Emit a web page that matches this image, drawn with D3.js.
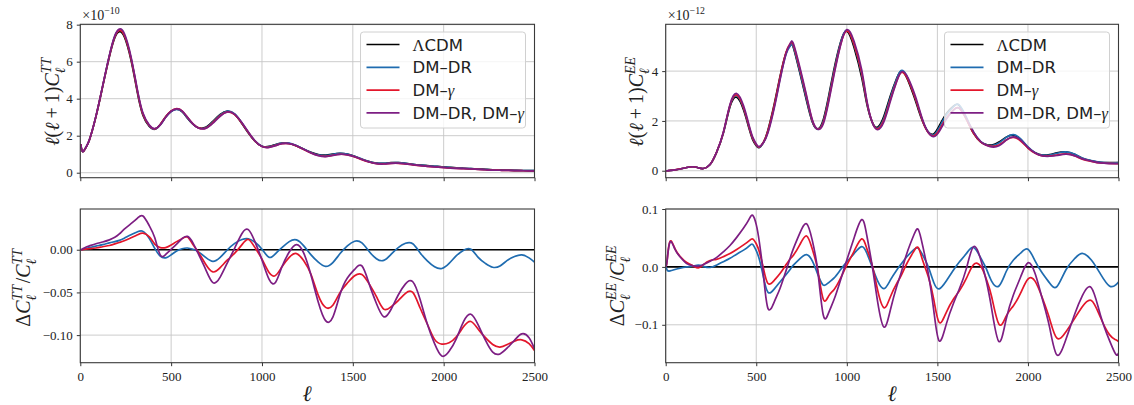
<!DOCTYPE html>
<html>
<head>
<meta charset="utf-8">
<script src="https://cdn.jsdelivr.net/npm/d3@7"></script>
<style>
  body { margin: 0; background: #fff; }
  svg { display: block; }
</style>
</head>
<body>
<svg id="fig" width="1134" height="405"></svg>
<script>
// ---- data ----
// multipoles for the TT spectrum
const ellTT = [2, 13, 30, 50, 86,
  123, 160, 190, 215, 242,
  279, 315, 345, 380, 410,
  440, 470, 500, 530, 560,
  590, 620, 650, 690, 730,
  770, 810, 850, 890, 925,
  960, 1000, 1040, 1075, 1110,
  1150, 1190, 1230, 1270, 1310,
  1350, 1390, 1430, 1470, 1510,
  1550, 1590, 1630, 1670, 1710,
  1750, 1790, 1830, 1870, 1910,
  1950, 1990, 2030, 2070, 2110,
  2150, 2190, 2230, 2270, 2310,
  2350, 2390, 2430, 2470, 2500];

// l(l+1) C_l^TT of LCDM, in units of 1e-10
const clTT = [1.55, 1.14, 1.35, 1.77, 3.03,
  4.65, 6.27, 7.3, 7.62, 7.35,
  6.09, 4.29, 3.1, 2.5, 2.35,
  2.6, 3.02, 3.32, 3.43, 3.3,
  2.95, 2.62, 2.43, 2.45, 2.78,
  3.15, 3.33, 3.15, 2.65, 2.15,
  1.72, 1.43, 1.42, 1.52, 1.6,
  1.58, 1.45, 1.27, 1.1, 0.98,
  0.95, 1.01, 1.05, 1.0, 0.88,
  0.73, 0.6, 0.52, 0.51, 0.54,
  0.54, 0.5, 0.45, 0.41, 0.38,
  0.35, 0.32, 0.29, 0.26, 0.24,
  0.22, 0.2, 0.18, 0.16, 0.15,
  0.14, 0.13, 0.12, 0.115, 0.11];

// relative difference to LCDM, in percent
const dTT_DR = [0, 0.05, 0.15, 0.25, 0.43,
  0.6, 0.8, 0.95, 1.1, 1.35,
  1.75, 2.1, 2.15, 1.3, 0.15,
  -0.75, -0.95, -0.6, -0.15, 0.12,
  0.2, 0.05, -0.25, -0.9, -1.37,
  -0.9, 0.0, 0.75, 1.2, 1.29,
  0.9, 0.05, -0.9, -0.45, 0.25,
  0.95, 1.15, 0.45, -0.6, -1.45,
  -1.95, -1.5, -0.45, 0.45, 1.0,
  0.8, -0.2, -1.05, -1.25, -0.55,
  0.25, 0.75, 0.7, -0.35, -1.3,
  -2.0, -2.2, -1.6, -0.7, -0.05,
  0.05, -0.9, -1.6, -2.05, -1.9,
  -1.25, -0.8, -0.6, -0.95, -1.45];

const dTT_G = [0, 0.02, 0.07, 0.12, 0.2,
  0.35, 0.5, 0.68, 0.85, 1.05,
  1.4, 1.75, 1.95, 1.5, 0.65,
  0.25, 0.25, 0.55, 0.95, 1.3,
  1.48, 0.6, -0.3, -1.7, -2.6,
  -2.1, -1.2, -0.4, 0.6, 1.2,
  0.3, -1.1, -2.7, -3.0, -2.0,
  -0.9, -0.45, -1.3, -2.9, -5.35,
  -6.75, -6.5, -5.0, -3.9, -3.05,
  -2.9, -4.0, -5.5, -6.95, -6.7,
  -5.95, -5.1, -5.0, -6.8, -8.7,
  -10.5, -11.05, -10.9, -10.2, -9.0,
  -8.4, -9.3, -10.3, -11.1, -11.4,
  -11.1, -10.7, -10.55, -11.0, -11.8];

const dTT_DRG = [0, 0.1, 0.3, 0.45, 0.7,
  0.9, 1.15, 1.45, 1.85, 2.4,
  3.05, 3.7, 3.95, 2.8, 1.4,
  -0.6, -0.55, 0.05, 0.65, 1.3,
  1.56, 0.8, -0.5, -2.3, -3.85,
  -3.2, -1.5, 0.2, 1.9, 2.35,
  1.0, -1.2, -3.5, -3.8, -2.0,
  -0.27, 0.6, -0.4, -3.0, -6.15,
  -8.3, -7.9, -5.2, -3.3, -2.3,
  -1.9, -4.0, -6.3, -7.85, -7.0,
  -5.3, -4.0, -3.75, -5.8, -8.7,
  -11.0, -12.45, -11.9, -10.4, -8.4,
  -7.55, -8.8, -10.6, -12.0, -12.2,
  -11.5, -10.6, -9.85, -10.3, -11.6];

// multipoles for the EE spectrum
const ellEE = [2, 9, 24, 51, 80,
  116, 150, 180, 208, 245,
  280, 318, 355, 392, 430,
  460, 480, 500, 517, 540,
  565, 600, 631, 665, 690,
  705, 740, 778, 810, 840,
  870, 900, 930, 965, 1000,
  1040, 1082, 1110, 1140, 1170,
  1205, 1240, 1275, 1300, 1330,
  1370, 1395, 1420, 1450, 1480,
  1510, 1550, 1590, 1620, 1660,
  1700, 1740, 1770, 1800, 1840,
  1880, 1920, 1960, 2000, 2040,
  2080, 2120, 2160, 2210, 2260,
  2300, 2350, 2400, 2450, 2485,
  2500];

// l(l+1) C_l^EE of LCDM, in units of 1e-12
const clEE = [0.0, 0.0, 0.01, 0.03, 0.07,
  0.13, 0.16, 0.12, 0.09, 0.25,
  0.72, 1.5, 2.57, 2.95, 2.44,
  1.7, 1.25, 1.0, 0.93, 1.15,
  1.65, 2.7, 3.78, 4.75, 5.05,
  4.95, 3.95, 2.8, 1.95, 1.68,
  2.05, 3.0, 4.1, 5.15, 5.6,
  4.95, 3.75, 2.7, 1.95, 1.75,
  2.2, 3.0, 3.7, 4.0, 3.75,
  3.0, 2.45, 1.95, 1.55, 1.48,
  1.8, 2.3, 2.6, 2.62, 2.1,
  1.5, 1.15, 1.05, 1.03, 1.15,
  1.35, 1.43, 1.25, 0.93, 0.72,
  0.63, 0.65, 0.72, 0.76, 0.65,
  0.5, 0.4, 0.34, 0.33, 0.33,
  0.33];

const dEE_DR = [0, -0.6, -0.7, -0.45, -0.2,
  0.0, 0.15, 0.29, 0.1, -0.1,
  0.3, 0.9, 1.5, 2.2, 2.9,
  3.6, 3.9, 2.8, 1.3, -1.8,
  -4.4, -3.8, -2.6, -1.3, -0.3,
  0.3, 1.4, 2.13, 1.0, -1.3,
  -3.15, -2.7, -1.9, -0.5, 0.86,
  2.3, 3.5, 2.4, 0.0, -2.4,
  -3.75, -2.3, -0.57, 0.5, 1.7,
  3.0, 3.2, 2.0, 0.0, -2.7,
  -3.8, -2.4, -0.5, 0.8, 2.3,
  3.34, 1.5, -0.3, -2.5, -3.3,
  -0.8, 1.2, 2.4, 3.05, 1.0,
  -1.1, -2.8, -3.4, -0.5, 1.5,
  2.35, 1.2, -1.2, -3.3, -3.1,
  -2.6];

const dEE_G = [0, 1.44, 4.43, 3.16, 1.8,
  0.75, 0.2, -0.17, 0.4, 1.1,
  1.3, 1.75, 2.3, 3.0, 3.8,
  4.5, 4.83, 4.0, 2.6, -0.3,
  -2.87, -2.3, -1.15, 0.4, 1.5,
  2.0, 3.8, 5.34, 3.0, -0.6,
  -5.6, -5.0, -3.9, -2.0, 0.3,
  2.7, 4.83, 3.2, 0.3, -4.0,
  -7.05, -5.2, -2.9, -1.5, 0.5,
  2.7, 3.3, 1.0, -1.7, -5.6,
  -9.6, -7.8, -5.5, -4.2, -2.0,
  0.4, 0.1, -2.1, -5.2, -9.9,
  -8.5, -6.7, -4.5, -2.1, -2.5,
  -5.4, -9.0, -12.3, -11.2, -8.8,
  -6.9, -5.8, -8.7, -11.7, -12.6,
  -12.9];

const dEE_DRG = [0, 1.4, 4.31, 3.05, 1.7,
  0.57, 0.2, 0.11, 0.4, 0.98,
  1.6, 2.6, 3.7, 5.1, 6.7,
  8.2, 8.91, 7.3, 4.3, -1.5,
  -7.2, -6.0, -3.74, -0.6, 1.8,
  3.16, 5.8, 7.45, 4.5, -0.8,
  -8.3, -7.9, -5.6, -2.3, 1.2,
  5.0, 8.16, 5.5, 0.2, -6.0,
  -10.4, -7.5, -3.45, -1.0, 2.2,
  5.5, 6.44, 3.5, -1.15, -7.5,
  -12.8, -9.8, -6.2, -3.9, -0.3,
  3.5, 1.2, -2.4, -7.3, -12.9,
  -9.0, -4.8, -1.7, 0.7, -1.2,
  -5.6, -10.5, -15.2, -12.5, -8.0,
  -5.0, -3.6, -8.3, -12.7, -15.1,
  -14.9];

const models = ["ΛCDM", "DM–DR", "DM–γ", "DM–DR, DM–γ"];
const colors = ["#000000", "#1f6cb0", "#e3162b", "#7d1e83"];

const xTicks = [0, 500, 1000, 1500, 2000, 2500];
const ttTicks = [0, 2, 4, 6, 8];
const eeTicks = [0, 2, 4];
const dTTTicks = [-0.10, -0.05, 0.00];
const dEETicks = [-0.1, 0.0, 0.1];

// ---- drawing ----
const svg = d3.select("#fig");
const serif = "'Liberation Serif', 'DejaVu Serif', serif";
const sans = "'DejaVu Sans', 'Liberation Sans', sans-serif";

// lays out a little formula piece by piece, returns group and width
function mathText(parent, pieces, size) {
  const g = parent.append("g");
  let cx = 0;
  pieces.forEach(p => {
    if (p.s !== undefined) {
      const t = g.append("text")
        .attr("x", cx).attr("y", 0)
        .attr("font-size", size * (p.scale || 1))
        .attr("font-family", p.sans ? sans : serif)
        .attr("font-style", p.it ? "italic" : "normal")
        .attr("fill", "#222")
        .text(p.s);
      cx += t.node().getComputedTextLength() + (p.pad || 0);
    } else {
      let w = 0;
      if (p.sup) {
        const t = g.append("text")
          .attr("x", cx).attr("y", -0.42 * size)
          .attr("font-size", 0.7 * size)
          .attr("font-family", serif)
          .attr("font-style", p.upright ? "normal" : "italic")
          .attr("fill", "#222")
          .text(p.sup);
        w = Math.max(w, t.node().getComputedTextLength());
      }
      if (p.sub) {
        const t = g.append("text")
          .attr("x", cx).attr("y", 0.28 * size)
          .attr("font-size", 0.7 * size)
          .attr("font-family", serif)
          .attr("font-style", "italic")
          .attr("fill", "#222")
          .text(p.sub);
        w = Math.max(w, t.node().getComputedTextLength());
      }
      cx += w + 1.5;
    }
  });
  return { g: g, width: cx };
}

function rotatedLabel(cx, cy, pieces, size) {
  const grp = svg.append("g").attr("transform", `translate(${cx},${cy}) rotate(-90)`);
  const m = mathText(grp, pieces, size);
  m.g.attr("transform", `translate(${-m.width / 2},0)`);
}

function drawPanel(p) {
  const x = d3.scaleLinear().domain([0, 2500]).range([p.x0, p.x1]);
  const y = d3.scaleLinear().domain(p.yDomain).range([p.y1, p.y0]);
  const g = svg.append("g");

  svg.append("clipPath").attr("id", "clip" + p.id)
    .append("rect")
    .attr("x", p.x0).attr("y", p.y0)
    .attr("width", p.x1 - p.x0).attr("height", p.y1 - p.y0);

  // grid
  g.selectAll(".gx").data(xTicks).join("line")
    .attr("x1", d => x(d)).attr("x2", d => x(d))
    .attr("y1", p.y0).attr("y2", p.y1)
    .attr("stroke", "#c6c6c6").attr("stroke-width", 0.9);
  g.selectAll(".gy").data(p.yTicks).join("line")
    .attr("x1", p.x0).attr("x2", p.x1)
    .attr("y1", d => y(d)).attr("y2", d => y(d))
    .attr("stroke", "#c6c6c6").attr("stroke-width", 0.9);

  // curves
  const line = d3.line()
    .x(d => x(d[0]))
    .y(d => y(d[1]))
    .curve(d3.curveNatural);
  const cg = g.append("g").attr("clip-path", `url(#clip${p.id})`);
  p.series.forEach((s, i) => {
    cg.append("path")
      .datum(d3.zip(p.ell, s))
      .attr("d", line)
      .attr("fill", "none")
      .attr("stroke", colors[i])
      .attr("stroke-width", 1.7)
      .attr("stroke-linejoin", "round");
  });

  // axes
  const ya = g.append("g")
    .attr("transform", `translate(${p.x0},0)`)
    .call(d3.axisLeft(y).tickValues(p.yTicks).tickFormat(p.fmt).tickSize(3.5).tickPadding(4));
  const xa = g.append("g")
    .attr("transform", `translate(0,${p.y1})`)
    .call(d3.axisBottom(x).tickValues(xTicks).tickFormat(p.xLabels ? d3.format("d") : "").tickSize(3.5).tickPadding(6));
  [ya, xa].forEach(a => {
    a.select(".domain").remove();
    a.selectAll("line").attr("stroke", "#333");
    a.selectAll("text")
      .attr("font-family", serif)
      .attr("font-size", 13)
      .attr("fill", "#222");
  });

  g.append("rect")
    .attr("x", p.x0).attr("y", p.y0)
    .attr("width", p.x1 - p.x0).attr("height", p.y1 - p.y0)
    .attr("fill", "none")
    .attr("stroke", "#3a3a3a")
    .attr("stroke-width", 1.1);

  if (p.offset) {
    const og = svg.append("g").attr("transform", `translate(${p.x0 + 2},20)`);
    mathText(og, [{ s: "×10" }, { sup: p.offset, upright: true }], 14);
  }

  if (p.legend) {
    const lx = p.x1 - 174, ly = 32;
    svg.append("rect")
      .attr("x", lx).attr("y", ly)
      .attr("width", 165).attr("height", 96)
      .attr("rx", 3)
      .attr("fill", "#fff").attr("fill-opacity", 0.8)
      .attr("stroke", "#d0d0d0");
    const labels = [
      [{ s: "Λ" }, { s: "CDM", sans: true }],
      [{ s: "DM–DR", sans: true }],
      [{ s: "DM–", sans: true }, { s: "γ", it: true }],
      [{ s: "DM–DR, DM–", sans: true }, { s: "γ", it: true }]
    ];
    models.forEach((m, i) => {
      const yy = ly + 12.5 + i * 22.8;
      svg.append("line")
        .attr("x1", lx + 6).attr("x2", lx + 39)
        .attr("y1", yy).attr("y2", yy)
        .attr("stroke", colors[i]).attr("stroke-width", 1.7);
      const tg = svg.append("g").attr("transform", `translate(${lx + 52},${yy + 6})`);
      mathText(tg, labels[i], 16.5);
    });
  }
}

// model spectra = LCDM * (1 + relative difference)
const ttSeries = [dTT_DR.map(() => 0), dTT_DR, dTT_G, dTT_DRG];
const eeSeries = [dEE_DR.map(() => 0), dEE_DR, dEE_G, dEE_DRG];

drawPanel({
  id: "tt", x0: 80.3, x1: 534.5, y0: 24.3, y1: 177.7,
  yDomain: [-0.27, 8.02], yTicks: ttTicks, fmt: d3.format("d"),
  ell: ellTT, series: ttSeries.map(r => clTT.map((c, j) => c * (1 + r[j] / 100))),
  offset: "−10", legend: true
});
drawPanel({
  id: "dtt", x0: 80.3, x1: 534.5, y0: 209, y1: 362.7,
  yDomain: [-0.1323, 0.0477], yTicks: dTTTicks, fmt: d3.format(".2f"),
  ell: ellTT, series: ttSeries.map(r => r.map(v => v / 100)), xLabels: true
});
drawPanel({
  id: "ee", x0: 665.7, x1: 1118.5, y0: 24.3, y1: 177.7,
  yDomain: [-0.28, 5.88], yTicks: eeTicks, fmt: d3.format("d"),
  ell: ellEE, series: eeSeries.map(r => clEE.map((c, j) => c * (1 + r[j] / 100))),
  offset: "−12", legend: true
});
drawPanel({
  id: "dee", x0: 665.7, x1: 1118.5, y0: 209, y1: 362.7,
  yDomain: [-0.1655, 0.1], yTicks: dEETicks, fmt: d3.format(".1f"),
  ell: ellEE, series: eeSeries.map(r => r.map(v => v / 100)), xLabels: true
});

// axis titles
const ell = [{ s: "ℓ", it: true }];
[307, 892].forEach(cx => {
  const g = svg.append("g").attr("transform", `translate(${cx},401)`);
  const m = mathText(g, ell, 22);
  m.g.attr("transform", `translate(${-m.width / 2},0)`);
});

const clLabel = sup => [
  { s: "ℓ", it: true }, { s: "(" }, { s: "ℓ", it: true, pad: 4 }, { s: "+", pad: 4 },
  { s: "1" }, { s: ")" }, { s: "C", it: true }, { sup: sup, sub: "ℓ" }
];
const dLabel = sup => [
  { s: "Δ" }, { s: "C", it: true }, { sup: sup, sub: "ℓ" }, { s: "/" },
  { s: "C", it: true }, { sup: sup, sub: "ℓ" }
];
rotatedLabel(59, 101, clLabel("TT"), 20);
rotatedLabel(30, 287, dLabel("TT"), 20);
rotatedLabel(643, 101, clLabel("EE"), 20);
rotatedLabel(624, 285, dLabel("EE"), 20);
</script>
</body>
</html>
